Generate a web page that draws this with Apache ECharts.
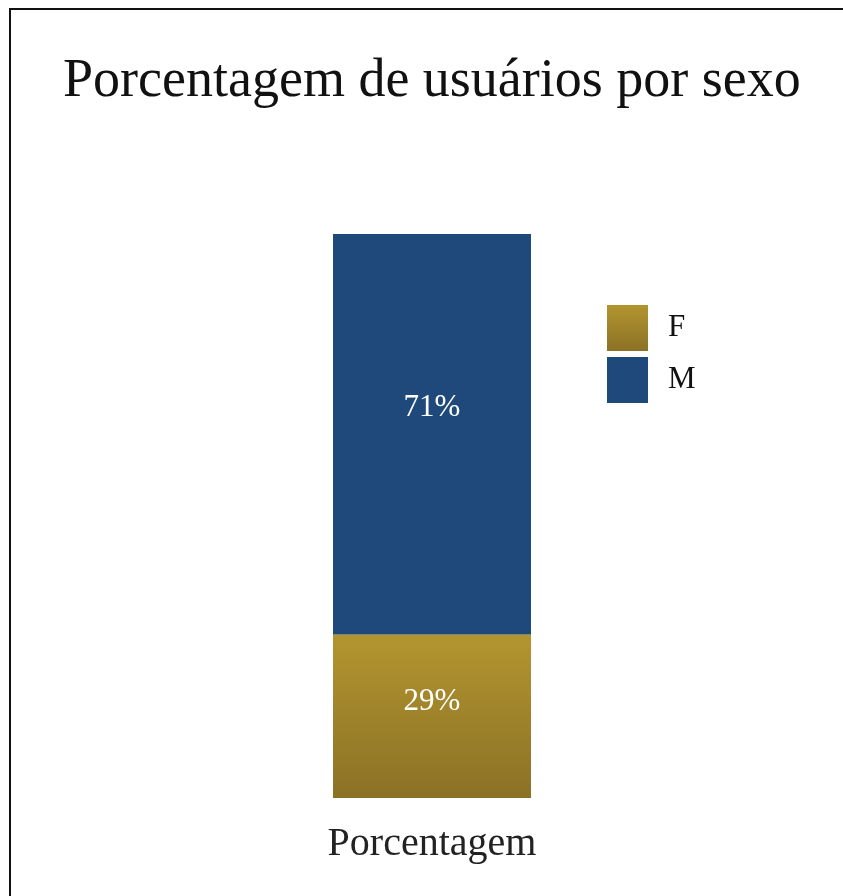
<!DOCTYPE html>
<html>
<head>
<meta charset="utf-8">
<script src="https://cdn.jsdelivr.net/npm/echarts@6/dist/echarts.min.js"></script>
<style>
  html, body { margin: 0; padding: 0; background: #fff; overflow: hidden; }
  #frame { position: absolute; left: 9px; top: 8px; width: 900px; height: 960px; border: 2px solid #111; box-sizing: border-box; }
  #main { position: absolute; left: 0; top: 0; width: 843px; height: 896px; }
</style>
</head>
<body>
<div id="frame"></div>
<div id="main"></div>
<script>
// dados
var categories = ['Porcentagem'];
var seriesNames = ['F', 'M'];
var valuesF = [29];
var valuesM = [71];

var chart = echarts.init(document.getElementById('main'));
var serif = '"Liberation Serif", "DejaVu Serif", serif';

var goldGradient = new echarts.graphic.LinearGradient(0, 0, 0, 1, [
    { offset: 0, color: '#b3952f' },
    { offset: 1, color: '#8b7126' }
]);

var option = {
    backgroundColor: 'transparent',
    title: {
        text: 'Porcentagem de usuários por sexo',
        left: 58,
        top: 50,
        textStyle: { fontFamily: serif, fontSize: 54, fontWeight: 'normal', color: '#111' }
    },
    legend: {
        orient: 'vertical',
        left: 607,
        top: 305,
        padding: 0,
        itemWidth: 41,
        itemHeight: 46,
        itemGap: 6,
        icon: 'rect',
        data: seriesNames,
        textStyle: { fontFamily: serif, fontSize: 31, color: '#111', padding: [0, 0, 0, 15] }
    },
    grid: { left: 333, right: 312, top: 234, bottom: 98 },
    xAxis: {
        type: 'category',
        data: categories,
        axisLine: { show: false },
        axisTick: { show: false },
        axisLabel: { fontFamily: serif, fontSize: 40, color: '#222', margin: 26 }
    },
    yAxis: {
        type: 'value',
        min: 0,
        max: 100,
        show: false
    },
    series: [
        {
            name: seriesNames[0],
            type: 'bar',
            stack: 'total',
            barWidth: '100%',
            data: valuesF,
            itemStyle: { color: goldGradient },
            label: {
                show: true,
                position: 'inside',
                formatter: '{c}%',
                fontFamily: serif,
                fontSize: 31,
                color: '#fff',
                offset: [0, -14]
            }
        },
        {
            name: seriesNames[1],
            type: 'bar',
            stack: 'total',
            barWidth: '100%',
            data: valuesM,
            itemStyle: { color: '#1f497b' },
            label: {
                show: true,
                position: 'inside',
                formatter: '{c}%',
                fontFamily: serif,
                fontSize: 31,
                color: '#fff',
                offset: [0, -26]
            }
        }
    ]
};

chart.setOption(option);
</script>
</body>
</html>
